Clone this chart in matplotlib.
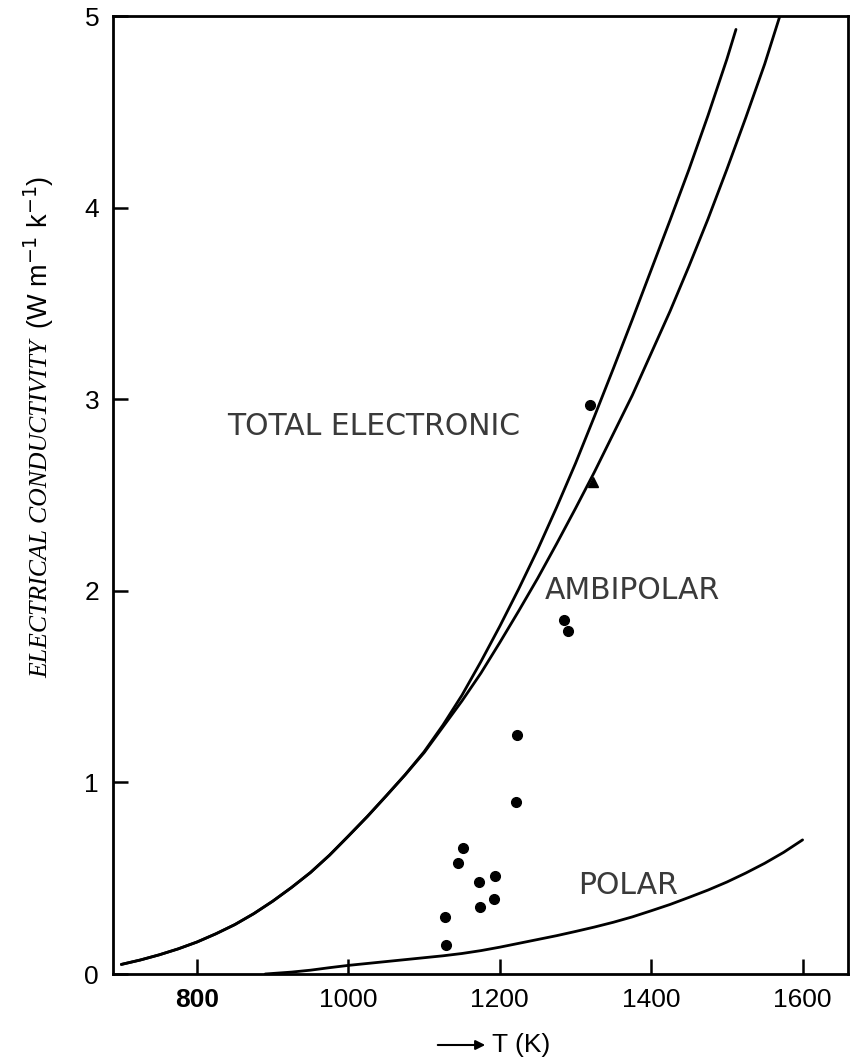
import matplotlib.pyplot as plt
from matplotlib.patches import FancyArrowPatch

# temperatures (K) at which the curves were read
temp_total = [700, 725, 750, 775, 800, 825, 850, 875, 900, 925, 950, 975,
              1000, 1025, 1050, 1075, 1100, 1125, 1150, 1175, 1200, 1225,
              1250, 1275, 1300, 1325, 1350, 1375, 1400, 1425, 1450, 1475,
              1500, 1512]
total_electronic = [0.050, 0.073, 0.100, 0.131, 0.167, 0.210, 0.258, 0.315,
                    0.380, 0.452, 0.530, 0.620, 0.720, 0.822, 0.930, 1.040,
                    1.160, 1.300, 1.455, 1.630, 1.815, 2.010, 2.215, 2.435,
                    2.665, 2.910, 3.160, 3.415, 3.675, 3.935, 4.200, 4.480,
                    4.775, 4.930]

temp_ambi = [700, 725, 750, 775, 800, 825, 850, 875, 900, 925, 950, 975,
             1000, 1025, 1050, 1075, 1100, 1125, 1150, 1175, 1200, 1225,
             1250, 1275, 1300, 1325, 1350, 1375, 1400, 1425, 1450, 1475,
             1500, 1525, 1550, 1570]
ambipolar = [0.050, 0.073, 0.100, 0.131, 0.167, 0.210, 0.258, 0.315,
             0.380, 0.452, 0.530, 0.620, 0.720, 0.822, 0.930, 1.040,
             1.155, 1.290, 1.425, 1.570, 1.730, 1.895, 2.065, 2.245,
             2.430, 2.620, 2.820, 3.020, 3.240, 3.460, 3.695, 3.940,
             4.200, 4.470, 4.750, 5.000]

temp_polar = [890, 925, 950, 975, 1000, 1025, 1050, 1075, 1100, 1125, 1150,
              1175, 1200, 1225, 1250, 1275, 1300, 1325, 1350, 1375, 1400,
              1425, 1450, 1475, 1500, 1525, 1550, 1575, 1600]
polar = [0.000, 0.010, 0.020, 0.033, 0.045, 0.055, 0.065, 0.075, 0.085,
         0.095, 0.107, 0.122, 0.140, 0.160, 0.180, 0.200, 0.222, 0.245,
         0.270, 0.298, 0.330, 0.363, 0.400, 0.438, 0.480, 0.527, 0.578,
         0.635, 0.700]

# measured points
meas_t = [1129, 1128, 1145, 1151, 1173, 1194, 1174, 1192, 1221, 1223,
          1285, 1290, 1319]
meas_sigma = [0.15, 0.30, 0.58, 0.66, 0.48, 0.51, 0.35, 0.39, 0.90, 1.25,
              1.85, 1.79, 2.97]
tri_t = [1323]
tri_sigma = [2.57]

x_ticks = [800, 1000, 1200, 1400, 1600]
y_ticks = [0, 1, 2, 3, 4, 5]

W, H = 857, 1062
fig = plt.figure(figsize=(W / 100, H / 100), dpi=100)
ax = fig.add_axes([113 / W, 1 - 974 / H, (848 - 113) / W, (974 - 16) / H])

line_kw = dict(color="black", lw=2.0, solid_capstyle="round")
ax.plot(temp_total, total_electronic, **line_kw)
ax.plot(temp_ambi, ambipolar, **line_kw)
ax.plot(temp_polar, polar, **line_kw)

ax.plot(meas_t, meas_sigma, "o", color="black", ms=7, ls="none")
ax.plot(tri_t, tri_sigma, "^", color="black", ms=7, ls="none")

ax.set_xlim(689, 1660)
ax.set_ylim(0, 5)

for sp in ax.spines.values():
    sp.set_linewidth(2.0)

ax.set_xticks(x_ticks)
ax.set_yticks(y_ticks)
ax.tick_params(direction="in", length=11, width=1.8, pad=10)
ax.set_xticklabels([str(t) for t in x_ticks], family="Liberation Sans",
                   fontsize=19)
ax.set_yticklabels([str(t) for t in y_ticks], family="Liberation Sans",
                   fontsize=19)
ax.get_xticklabels()[0].set_fontweight("bold")

# curve names
label_kw = dict(family="DejaVu Sans", fontsize=21.5, color="#3a3a3a",
                va="center", ha="left")
ax.text(840, 2.86, "TOTAL ELECTRONIC", **label_kw)
ax.text(1260, 2.0, "AMBIPOLAR", **label_kw)
ax.text(1303, 0.46, "POLAR", **label_kw)

# y-axis label: italic serif name plus sans units
fig.text(41 / W, 1 - 509 / H, "ELECTRICAL CONDUCTIVITY", rotation=90,
         family="Liberation Serif", style="italic", fontsize=18.5,
         ha="center", va="center")
fig.text(39 / W, 1 - 252 / H, r"(W m$^{-1}$ k$^{-1}$)", rotation=90,
         family="Liberation Sans", fontsize=19.5, ha="center", va="center")

# x-axis label with arrow
fig.text(492 / W, 1 - 1045 / H, "T (K)", family="Liberation Sans",
         fontsize=19, ha="left", va="center")
fig.patches.append(FancyArrowPatch(
    (435 / W, 1 - 1045 / H), (488 / W, 1 - 1045 / H),
    transform=fig.transFigure, arrowstyle="-|>", mutation_scale=14,
    lw=1.5, color="black"))

fig.savefig("out.png", dpi=100)
